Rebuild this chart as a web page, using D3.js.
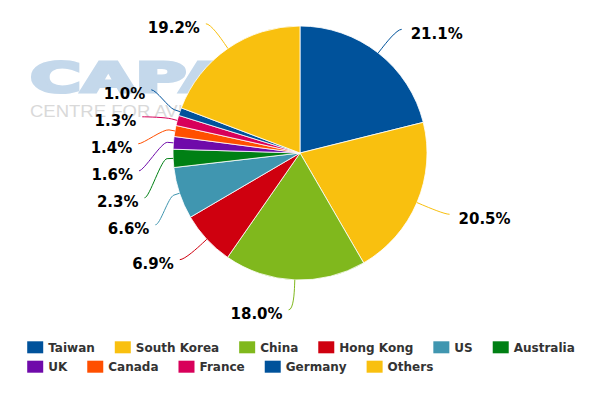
<!DOCTYPE html>
<html>
<head>
<meta charset="utf-8">
<script src="https://cdn.jsdelivr.net/npm/d3@7"></script>
<style>
  html, body { margin: 0; padding: 0; background: #ffffff; }
  svg { display: block; }
</style>
</head>
<body>
<svg id="chart" width="600" height="400"></svg>
<script>
// ---- Data ----
const categories = ["Taiwan", "South Korea", "China", "Hong Kong", "US", "Australia",
                    "UK", "Canada", "France", "Germany", "Others"];
const shares = [21.1, 20.5, 18.0, 6.9, 6.6, 2.3, 1.6, 1.4, 1.3, 1.0, 19.2];
const colors = ["#00529B", "#F9C00F", "#80B81D", "#CF000F", "#4096B0", "#008014",
                "#6F0AAA", "#FF4F00", "#D8005A", "#00529B", "#F9C00F"];
const watermarkTitle = "CAPA";
const watermarkSubtitle = "CENTRE FOR AVIATION";

// ---- Layout ----
const W = 600, H = 400;
const cx = 300, cy = 153, r = 127;
const labelDistance = 30;
const R = r + labelDistance;
const labelBox = 27;

const svg = d3.select("#chart");

// Watermark (behind the pie)
const wm = svg.append("g");
wm.append("text")
  .attr("x", 30).attr("y", 92)
  .attr("font-family", "DejaVu Sans").attr("font-weight", "bold")
  .attr("font-size", 41)
  .attr("textLength", 204).attr("lengthAdjust", "spacingAndGlyphs")
  .attr("fill", "#C4D8EB").attr("stroke", "#C4D8EB").attr("stroke-width", 3)
  .attr("stroke-linejoin", "miter")
  .text(watermarkTitle);
wm.append("text")
  .attr("x", 30).attr("y", 116.5)
  .attr("font-family", "Liberation Sans")
  .attr("font-size", 16.5)
  .attr("textLength", 208).attr("lengthAdjust", "spacingAndGlyphs")
  .attr("fill", "#D9D9D9")
  .text(watermarkSubtitle);

// Pie
const pie = d3.pie().sort(null).value(d => d).startAngle(0).endAngle(2 * Math.PI);
const arcs = pie(shares);
const arc = d3.arc().innerRadius(0).outerRadius(r);

const g = svg.append("g").attr("transform", `translate(${cx},${cy})`);
g.selectAll("path.slice")
  .data(arcs)
  .join("path")
  .attr("class", "slice")
  .attr("d", arc)
  .attr("fill", (d, i) => colors[i])
  .attr("stroke", "#ffffff")
  .attr("stroke-width", 0.8)
  .attr("stroke-linejoin", "round");

// ---- Data labels with a Highcharts-like vertical distribution ----
const fmt = d3.format(".1f");
const labels = arcs.map((a, i) => {
  const mid = (a.startAngle + a.endAngle) / 2;
  const sx = Math.sin(mid), sy = -Math.cos(mid);
  return {
    i, mid, sx, sy,
    left: mid > Math.PI,
    naturalY: cy + sy * R,
    touch: [cx + sx * r, cy + sy * r],
    brk: [cx + sx * (r + 6), cy + sy * (r + 6)]
  };
});

function distribute(items, len) {
  items.sort((a, b) => a.naturalY - b.naturalY);
  let groups = items.map(it => ({ size: labelBox, targets: [it.naturalY], members: [it] }));
  let overlapping = true;
  while (overlapping) {
    groups.forEach(gr => {
      let t = (d3.min(gr.targets) + d3.max(gr.targets)) / 2;
      if (gr.members.length > 1) t += 5; // stacked groups sit slightly lower
      gr.pos = Math.min(Math.max(0, t - gr.size / 2), len - gr.size);
    });
    overlapping = false;
    for (let k = groups.length - 1; k > 0; k--) {
      const a = groups[k - 1], b = groups[k];
      if (a.pos + a.size > b.pos) {
        a.size += b.size;
        a.targets = a.targets.concat(b.targets);
        a.members = a.members.concat(b.members);
        groups.splice(k, 1);
        overlapping = true;
      }
    }
  }
  groups.forEach(gr => {
    gr.members.forEach((m, k) => { m.y = gr.pos + k * labelBox + labelBox / 2; });
  });
}
distribute(labels.filter(l => l.left), 330);
distribute(labels.filter(l => !l.left), 330);

labels.forEach(l => {
  const dy = l.y - cy;
  const dx = Math.sqrt(Math.max(0, R * R - dy * dy));
  l.x = l.left ? cx - dx : cx + dx;
});

const lg = svg.append("g");
lg.selectAll("path.conn")
  .data(labels)
  .join("path")
  .attr("class", "conn")
  .attr("fill", "none")
  .attr("stroke", d => colors[d.i])
  .attr("stroke-width", 1)
  .attr("d", d => {
    const ex = d.x + (d.left ? -5 : 5);
    const c2x = 2 * d.brk[0] - d.touch[0], c2y = 2 * d.brk[1] - d.touch[1];
    return `M${ex},${d.y}C${d.x},${d.y} ${c2x},${c2y} ${d.brk[0]},${d.brk[1]}L${d.touch[0]},${d.touch[1]}`;
  });

lg.selectAll("text.lbl")
  .data(labels)
  .join("text")
  .attr("class", "lbl")
  .attr("x", d => d.left ? d.x - 11 : d.x + 14)
  .attr("y", d => d.y + 9.5)
  .attr("text-anchor", d => d.left ? "end" : "start")
  .attr("font-family", "DejaVu Sans")
  .attr("font-weight", "bold")
  .attr("font-size", 15)
  .attr("fill", "#000000")
  .text(d => fmt(shares[d.i]) + "%");

// ---- Legend ----
const legend = svg.append("g");
const items = legend.selectAll("g.item")
  .data(categories)
  .join("g")
  .attr("class", "item");
items.append("rect")
  .attr("width", 16).attr("height", 12)
  .attr("fill", (d, i) => colors[i]);
items.append("text")
  .attr("x", 21).attr("y", 10.7)
  .attr("font-family", "DejaVu Sans")
  .attr("font-weight", "bold")
  .attr("font-size", 12)
  .attr("fill", "#333333")
  .text(d => d);

const maxW = 580, itemGap = 20;
const rows = [];
let row = [], rowW = 0;
items.each(function () {
  const w = 21 + this.querySelector("text").getComputedTextLength();
  const add = (row.length ? itemGap : 0) + w;
  if (row.length && rowW + add > maxW) {
    rows.push({ items: row, width: rowW });
    row = []; rowW = 0;
  }
  row.push({ node: this, offset: rowW + (row.length ? itemGap : 0) });
  rowW += (row.length > 1 ? itemGap : 0) + w;
});
if (row.length) rows.push({ items: row, width: rowW });
const legendW = d3.max(rows, rw => rw.width);
const startX = (W - legendW) / 2 + 1;
rows.forEach((rw, ri) => {
  rw.items.forEach(it => {
    d3.select(it.node).attr("transform", `translate(${startX + it.offset},${341.3 + ri * 19.4})`);
  });
});
</script>
</body>
</html>
